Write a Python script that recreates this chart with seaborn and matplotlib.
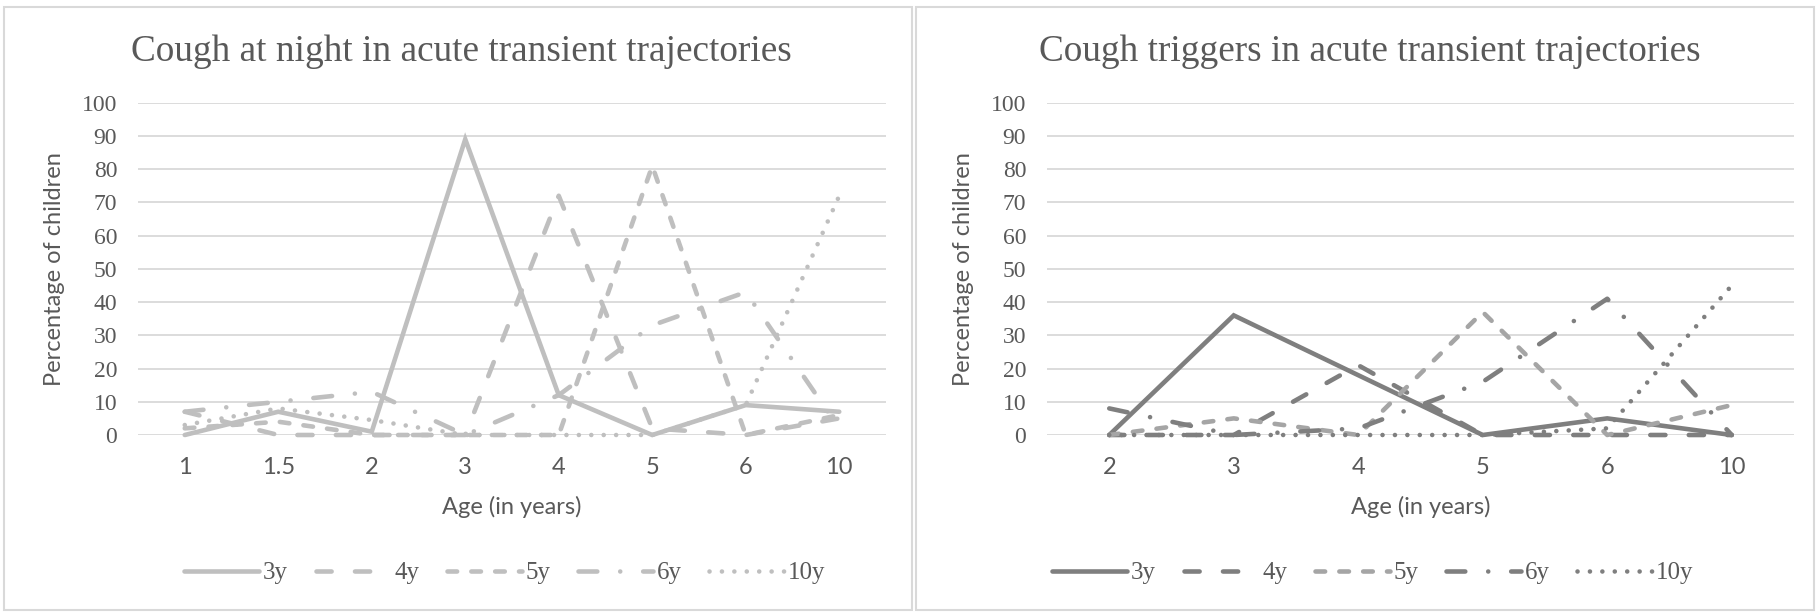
import numpy as np
import pandas as pd
import matplotlib
matplotlib.use('Agg')
import matplotlib.pyplot as plt
from matplotlib.lines import Line2D
from matplotlib.patches import Rectangle
import seaborn as sns

# Data
series = ['3y', '4y', '5y', '6y', '10y']

night_ages = ['1', '1.5', '2', '3', '4', '5', '6', '10']
night_3y = [0, 7, 1, 89, 12, 0, 9, 7]
night_4y = [7, 0, 0, 0, 72, 2, 0, 5]
night_5y = [2, 4, 0, 0, 0, 81, 0, 6]
night_6y = [7, 10, 13, 0, 12, 33, 43, 2]
night_10y = [3, 8, 4.5, 0, 0, 0, 9, 72]

trig_ages = ['2', '3', '4', '5', '6', '10']
trig_3y = [0, 36, 18, 0, 5, 0]
trig_4y = [0, 0, 21, 0, 0, 0]
trig_5y = [0, 5, 0, 37, 0, 9]
trig_6y = [8, 0, 2, 16, 41, 0]
trig_10y = [0, 0, 0, 0, 2, 45]

left_colors = {'3y': '#bfbfbf', '4y': '#bfbfbf', '5y': '#bfbfbf', '6y': '#bfbfbf', '10y': '#bfbfbf'}
right_colors = {'3y': '#7f7f7f', '4y': '#7f7f7f', '5y': '#a5a5a5', '6y': '#7f7f7f', '10y': '#7f7f7f'}
dash_styles = {'3y': '', '4y': (3.3, 5.1), '5y': (2.1, 3.1), '6y': (4.1, 5.0, 0.01, 5.0), '10y': (0.01, 2.7)}

LW = 3.3
TXT = '#595959'
SERIF = 'Liberation Serif'
SANS = 'Lato'


def long_table(ages, values):
    rows = []
    for name, vals in zip(series, values):
        for a, v in zip(ages, vals):
            rows.append({'age': a, 'value': v, 'series': name})
    return pd.DataFrame(rows)


df_night = long_table(night_ages, [night_3y, night_4y, night_5y, night_6y, night_10y])
df_trig = long_table(trig_ages, [trig_3y, trig_4y, trig_5y, trig_6y, trig_10y])

sns.set_style('white')
plt.rcParams['font.family'] = [SERIF, 'DejaVu Serif']

fig = plt.figure(figsize=(18.18, 6.12), dpi=100)
W, H = 1818, 612

# panel borders
fig.patches.append(Rectangle((4 / W, 1 - 610 / H), 908 / W, 603 / H, transform=fig.transFigure,
                             fill=False, edgecolor='#d9d9d9', linewidth=1.5))
fig.patches.append(Rectangle((916 / W, 1 - 610 / H), 898 / W, 603 / H, transform=fig.transFigure,
                             fill=False, edgecolor='#d9d9d9', linewidth=1.5))


def draw_panel(rect, df, ages, colors, title, title_x, legend_x):
    ax = fig.add_axes(rect)
    sns.lineplot(data=df, x='age', y='value', hue='series', style='series',
                 palette=colors, dashes=dash_styles, linewidth=LW, legend=False,
                 ax=ax, sort=False, dash_capstyle='round', solid_capstyle='round',
                 solid_joinstyle='miter', clip_on=False, zorder=3)
    ax.set_xlim(-0.5, len(ages) - 0.5)
    ax.set_ylim(0, 100)
    ax.set_yticks(range(0, 101, 10))
    ax.grid(axis='y', color='#d9d9d9', linewidth=1.3)
    ax.grid(axis='x', visible=False)
    for s in ax.spines.values():
        s.set_visible(False)
    ax.tick_params(axis='both', length=0)
    ax.tick_params(axis='y', pad=15, labelsize=17, labelcolor=TXT)
    ax.tick_params(axis='x', pad=16, labelsize=17, labelcolor=TXT)
    for lbl in ax.get_xticklabels():
        lbl.set_family(SANS)
    ax.set_xlabel('Age (in years)', family=SANS, fontsize=17, color=TXT, labelpad=13)
    ax.set_ylabel('Percentage of children', family=SANS, fontsize=17, color=TXT, labelpad=12)
    fig.text(title_x / W, 1 - 52 / H, title, ha='center', va='center',
             fontsize=26.8, color=TXT, family=SERIF)
    handles = []
    for n in series:
        h = Line2D([], [], color=colors[n], linewidth=LW, linestyle='-' if n == '3y' else '--',
                   dash_capstyle='round', solid_capstyle='round')
        if dash_styles[n]:
            h.set_dashes(dash_styles[n])
        handles.append(h)
    fig.legend(handles, series, loc='center', bbox_to_anchor=(legend_x / W, 1 - 573 / H),
               ncol=5, frameon=False, handlelength=3.0, handletextpad=0.15,
               columnspacing=1.1, prop={'family': SERIF, 'size': 18}, labelcolor=TXT)
    return ax


draw_panel([138 / W, 1 - 435 / H, 748 / W, 332.3 / H], df_night, night_ages, left_colors,
           'Cough at night in acute transient trajectories', 461, 505)
draw_panel([1047 / W, 1 - 435 / H, 747 / W, 332.3 / H], df_trig, trig_ages, right_colors,
           'Cough triggers in acute transient trajectories', 1370, 1373)

fig.savefig('out.png', dpi=100)
